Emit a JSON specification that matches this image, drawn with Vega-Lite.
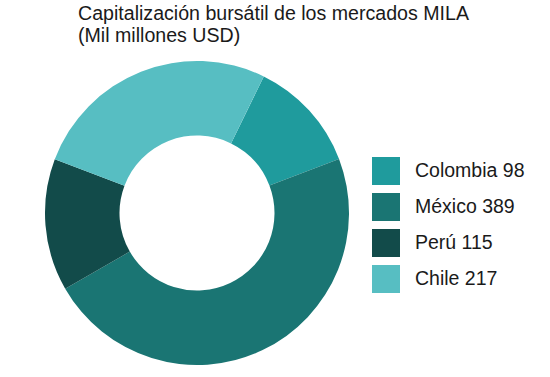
{
  "$schema": "https://vega.github.io/schema/vega-lite/v6.json",
  "width": 304,
  "height": 304,
  "autosize": {"type": "none"},
  "padding": {"left": 45, "top": 61, "right": 201, "bottom": 12},
  "background": "white",
  "title": {
    "text": ["Capitalización bursátil de los mercados MILA", "(Mil millones USD)"],
    "anchor": "start",
    "frame": "group",
    "orient": "top",
    "dx": 33,
    "offset": 14,
    "limit": 600,
    "font": "Liberation Sans",
    "fontSize": 19.6,
    "fontWeight": "normal",
    "color": "#1a1a1a",
    "lineHeight": 22
  },
  "data": {
    "values": [
      {"pais": "Colombia", "valor": 98, "etiqueta": "Colombia 98", "orden": 1},
      {"pais": "México", "valor": 389, "etiqueta": "México 389", "orden": 2},
      {"pais": "Perú", "valor": 115, "etiqueta": "Perú 115", "orden": 3},
      {"pais": "Chile", "valor": 217, "etiqueta": "Chile 217", "orden": 4}
    ]
  },
  "mark": {"type": "arc", "outerRadius": 152, "innerRadius": 77.5},
  "encoding": {
    "theta": {"field": "valor", "type": "quantitative", "stack": true, "scale": {"range": [0.455, 6.738]}},
    "order": {"field": "orden", "type": "quantitative"},
    "color": {
      "field": "etiqueta",
      "type": "nominal",
      "sort": ["Colombia 98", "México 389", "Perú 115", "Chile 217"],
      "scale": {
        "domain": ["Colombia 98", "México 389", "Perú 115", "Chile 217"],
        "range": ["#1f9b9d", "#1a7573", "#124b4a", "#57bec2"]
      },
      "legend": {
        "title": null,
        "orient": "none",
        "legendX": 327,
        "legendY": 96,
        "symbolType": "square",
        "symbolSize": 784,
        "symbolStrokeWidth": 0,
        "symbolOpacity": 1,
        "labelFont": "Liberation Sans",
        "labelFontSize": 19.5,
        "labelColor": "#1a1a1a",
        "labelOffset": 15,
        "rowPadding": 8,
        "labelLimit": 300
      }
    }
  }
}
